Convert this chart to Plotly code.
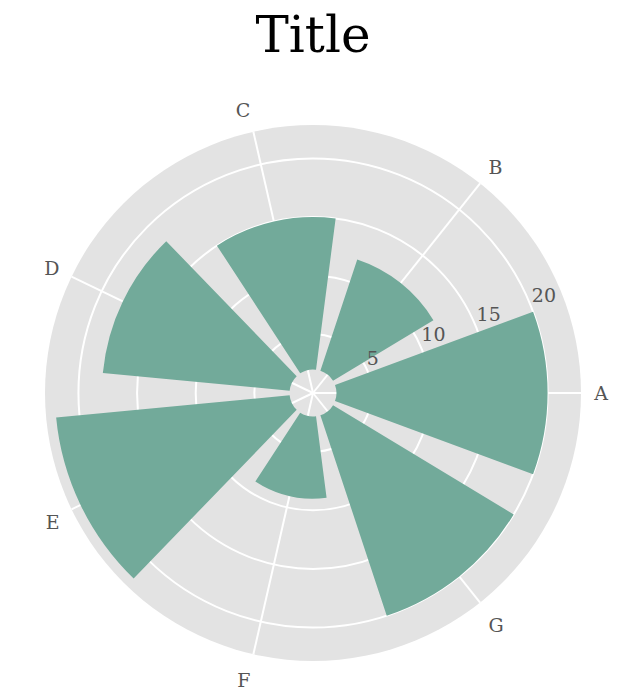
import plotly.graph_objects as go

categories = ["A", "B", "C", "D", "E", "F", "G"]
values = [18, 10, 13, 16, 20, 7, 18]
bottom = 2
radial_ticks = [5, 10, 15, 20]

n = len(categories)
theta = [i * 360.0 / n for i in range(n)]
r_max = 22.85
font_family = "DejaVu Serif"
tick_font = dict(family=font_family, size=19, color="#555555")

# radial labels sit just beyond their grid circle (matplotlib style);
# they are drawn by an overlaid, transparent polar subplot
label_pos = [t + 0.34 + 1.03 * len(str(t)) for t in radial_ticks]

fig = go.Figure()
fig.add_trace(go.Barpolar(
    r=values,
    theta=theta,
    base=[bottom] * n,
    width=[40.5] * n,
    marker=dict(color="#72AA9A", line=dict(width=0)),
    opacity=1,
    hoverinfo="skip",
    subplot="polar",
))
fig.add_trace(go.Barpolar(r=[], theta=[], subplot="polar2", hoverinfo="skip"))

fig.update_layout(
    width=643, height=696,
    paper_bgcolor="white",
    showlegend=False,
    margin=dict(l=37, r=70, t=117, b=43),
    title=dict(text="Title", xref="paper", x=0.5, xanchor="center",
               y=1 - 26 / 696, yanchor="middle",
               font=dict(family=font_family, size=50, color="black")),
    polar=dict(
        bgcolor="#E3E3E3",
        domain=dict(x=[0, 1], y=[0, 1]),
        radialaxis=dict(
            range=[0, r_max],
            tickvals=radial_ticks,
            showticklabels=False,
            showline=False,
            ticks="",
            gridcolor="white",
            gridwidth=1.5,
            layer="below traces",
        ),
        angularaxis=dict(
            tickvals=theta,
            ticktext=categories,
            rotation=0,
            direction="counterclockwise",
            showline=False,
            ticks="outside",
            ticklen=9,
            tickcolor="rgba(0,0,0,0)",
            gridcolor="white",
            gridwidth=1.5,
            layer="below traces",
            tickfont=tick_font,
        ),
    ),
    polar2=dict(
        bgcolor="rgba(0,0,0,0)",
        domain=dict(x=[0, 1], y=[0, 1]),
        radialaxis=dict(
            range=[0, r_max],
            tickvals=label_pos,
            ticktext=[str(t) for t in radial_ticks],
            angle=19.5,
            side="counterclockwise",
            tickangle=19.5,
            showgrid=False,
            showline=False,
            ticks="",
            tickfont=tick_font,
        ),
        angularaxis=dict(visible=False, rotation=0, direction="counterclockwise"),
    ),
)

fig.write_html("out.html")
